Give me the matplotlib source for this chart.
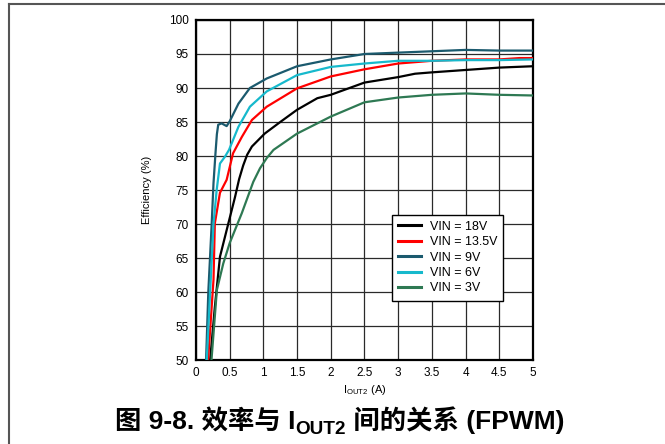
import matplotlib
matplotlib.use("Agg")
import matplotlib.pyplot as plt
from matplotlib.lines import Line2D

plt.rcParams["font.family"] = ["Liberation Sans", "DejaVu Sans"]
plt.rcParams["mathtext.fontset"] = "custom"
plt.rcParams["mathtext.rm"] = "Liberation Sans"

# Efficiency curves, IOUT2 (A) vs efficiency (%)
x_18v = [0.21, 0.28, 0.356, 0.455, 0.58, 0.64, 0.70, 0.76, 0.83, 1.02, 1.25, 1.5, 1.8, 2.0, 2.5, 3.0, 3.25, 3.5, 4.0, 4.5, 5.0]
y_18v = [50, 57.8, 65.2, 69.1, 74.0, 76.6, 78.6, 80.2, 81.4, 83.3, 85.0, 86.8, 88.5, 89.0, 90.8, 91.6, 92.1, 92.3, 92.65, 93.0, 93.2]

x_13v5 = [0.18, 0.26, 0.28, 0.356, 0.455, 0.55, 0.68, 0.83, 1.05, 1.5, 2.0, 2.5, 3.0, 3.5, 4.0, 4.5, 4.8, 5.0]
y_13v5 = [50, 61.8, 70.1, 74.6, 76.5, 80.4, 82.8, 85.3, 87.25, 89.95, 91.7, 92.75, 93.6, 94.0, 94.2, 94.2, 94.4, 94.4]

x_9v = [0.15, 0.183, 0.233, 0.26, 0.29, 0.31, 0.33, 0.38, 0.455, 0.5, 0.63, 0.8, 1.05, 1.5, 2.0, 2.5, 3.0, 3.5, 4.0, 4.5, 5.0]
y_9v = [50, 60, 70, 76, 80.5, 83.2, 84.6, 84.8, 84.4, 85.1, 87.7, 90.0, 91.4, 93.2, 94.2, 95.0, 95.2, 95.4, 95.6, 95.5, 95.5]

x_6v = [0.16, 0.21, 0.26, 0.307, 0.356, 0.43, 0.49, 0.63, 0.8, 1.05, 1.5, 2.0, 2.5, 3.0, 3.5, 4.0, 4.5, 5.0]
y_6v = [50, 60, 70, 75, 78.9, 79.9, 80.9, 84.3, 87.25, 89.5, 91.9, 93.1, 93.6, 94.0, 94.0, 94.1, 94.1, 94.2]

x_3v = [0.23, 0.31, 0.405, 0.5, 0.68, 0.85, 0.95, 1.05, 1.15, 1.5, 2.0, 2.5, 3.0, 3.5, 4.0, 4.5, 5.0]
y_3v = [50, 60.3, 64.2, 67.2, 71.6, 76.2, 78.2, 79.7, 80.9, 83.3, 85.8, 87.9, 88.6, 89.0, 89.2, 89.0, 88.9]

labels = ["VIN = 18V", "VIN = 13.5V", "VIN = 9V", "VIN = 6V", "VIN = 3V"]
colors = ["#000000", "#ff0000", "#1b5a6e", "#16b9cc", "#2e7953"]

x_ticks = [0, 0.5, 1, 1.5, 2, 2.5, 3, 3.5, 4, 4.5, 5]
x_ticklabels = ["0", "0.5", "1", "1.5", "2", "2.5", "3", "3.5", "4", "4.5", "5"]
y_ticks = [50, 55, 60, 65, 70, 75, 80, 85, 90, 95, 100]

# caption pieces: (text, size scale, baseline drop in points)
caption_parts = [("图 9-8. 效率与 I", 1.0, 0.0), ("OUT2", 0.72, 3.5), (" 间的关系 (FPWM)", 1.0, 0.0)]

fig = plt.figure(figsize=(6.65, 4.44), dpi=100)
ax = fig.add_axes([0.2947, 0.189, 0.5068, 0.766])

series = [(x_18v, y_18v), (x_13v5, y_13v5), (x_9v, y_9v), (x_6v, y_6v), (x_3v, y_3v)]
for (xs, ys), c, lab in zip(series, colors, labels):
    ax.plot(xs, ys, color=c, lw=1.6, label=lab, solid_joinstyle="round", zorder=3)

ax.set_xlim(0, 5)
ax.set_ylim(50, 100)
ax.set_xticks(x_ticks)
ax.set_xticklabels(x_ticklabels)
ax.set_yticks(y_ticks)
ax.grid(True, color="#2a2a2a", lw=0.9)
ax.set_axisbelow(True)
ax.tick_params(length=0, labelsize=8.5, pad=5)
for s in ax.spines.values():
    s.set_linewidth(1.6)
    s.set_color("black")

ax.set_xlabel(r"$\mathregular{I_{OUT2}}$ (A)", fontsize=8, labelpad=3)
ax.set_ylabel("Efficiency (%)", fontsize=8, labelpad=12)

leg = ax.legend(loc="upper left", bbox_to_anchor=(0.582, 0.428), fontsize=9,
                frameon=True, fancybox=False, edgecolor="black", framealpha=1,
                handlelength=1.85, handletextpad=0.65, labelspacing=0.27,
                borderpad=0.5, borderaxespad=0)
leg.get_frame().set_linewidth(1.0)
for h in leg.get_lines():
    h.set_linewidth(2.2)

# caption laid out piece by piece so the subscript sits below the baseline
cap_size = 19
cap_family = ["Liberation Sans", "Noto Sans CJK SC"]
cap_y = 0.033
renderer = fig.canvas.get_renderer()
texts = []
for txt, scale, drop in caption_parts:
    t = fig.text(0, cap_y - drop / 72 / fig.get_figheight(), txt, ha="left", va="baseline",
                 fontsize=cap_size * scale, fontweight="bold", family=cap_family)
    texts.append(t)
widths = [t.get_window_extent(renderer).width / fig.bbox.width for t in texts]
x0 = 0.511 - sum(widths) / 2
for t, w in zip(texts, widths):
    t.set_x(x0)
    x0 += w

# page frame: left and top rules
fig.add_artist(Line2D([0.0128, 0.0128], [0, 0.991], transform=fig.transFigure,
                      color="#555555", lw=1.5))
fig.add_artist(Line2D([0.0128, 1.0], [0.991, 0.991], transform=fig.transFigure,
                      color="#555555", lw=1.5))

fig.savefig("out.png", dpi=100)
